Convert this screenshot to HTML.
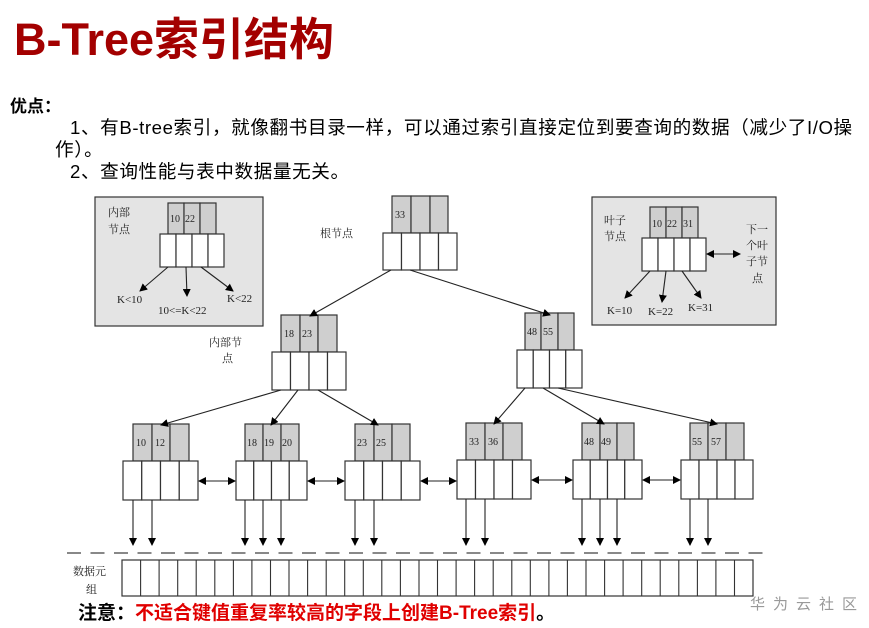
<!DOCTYPE html>
<html><head><meta charset="utf-8"><style>
body{margin:0;width:869px;height:628px;background:#fff;overflow:hidden;position:relative;font-family:"Liberation Sans","Noto Sans CJK SC",sans-serif}
.t{position:absolute;white-space:nowrap}
</style></head><body>
<div class="t" style="left:14px;top:3px;font-size:45px;font-weight:bold;color:#a30000;letter-spacing:0px">B-Tree索引结构</div>
<div class="t" style="left:10px;top:92px;font-size:17px;font-weight:bold">优点：</div>
<div class="t" style="left:70px;top:117px;font-size:18.6px;line-height:22px;letter-spacing:0.6px">1、有B-tree索引，就像翻书目录一样，可以通过索引直接定位到要查询的数据（减少了I/O操</div>
<div class="t" style="left:55px;top:139px;font-size:18.6px;line-height:22px;letter-spacing:0.6px">作）。</div>
<div class="t" style="left:70px;top:161px;font-size:18.6px;line-height:22px;letter-spacing:0.6px">2、查询性能与表中数据量无关。</div>
<svg width="869" height="628" style="position:absolute;left:0;top:0" font-family="Liberation Serif, Noto Serif CJK SC, serif">
<defs><marker id="a" markerWidth="8" markerHeight="8" refX="7" refY="4" orient="auto" markerUnits="userSpaceOnUse"><path d="M0,0L8,4L0,8z" fill="#000"/></marker>
<marker id="b" markerWidth="8" markerHeight="8" refX="1" refY="4" orient="auto" markerUnits="userSpaceOnUse"><path d="M8,0L0,4L8,8z" fill="#000"/></marker></defs>
<g stroke="#333" stroke-width="1.2">
<rect x="95" y="197" width="168" height="129" fill="#e4e4e4"/>
<rect x="592" y="197" width="184" height="128" fill="#e4e4e4"/>
</g>
<g stroke="#333" stroke-width="1.2" fill="#cfcfcf">
<rect x="168" y="203" width="16" height="31"/><rect x="184" y="203" width="16" height="31"/><rect x="200" y="203" width="16" height="31"/>
<rect x="650" y="207" width="16" height="31"/><rect x="666" y="207" width="16" height="31"/><rect x="682" y="207" width="16" height="31"/>
<rect x="392" y="196" width="19" height="37"/><rect x="411" y="196" width="19" height="37"/><rect x="430" y="196" width="18" height="37"/>
<rect x="281" y="315" width="19" height="37"/><rect x="300" y="315" width="18" height="37"/><rect x="318" y="315" width="19" height="37"/>
<rect x="525" y="313" width="16" height="37"/><rect x="541" y="313" width="17" height="37"/><rect x="558" y="313" width="16" height="37"/>
<rect x="133" y="424" width="19" height="37"/><rect x="152" y="424" width="18" height="37"/><rect x="170" y="424" width="19" height="37"/>
<rect x="245" y="424" width="18" height="37"/><rect x="263" y="424" width="18" height="37"/><rect x="281" y="424" width="18" height="37"/>
<rect x="355" y="424" width="19" height="37"/><rect x="374" y="424" width="18" height="37"/><rect x="392" y="424" width="18" height="37"/>
<rect x="466" y="423" width="19" height="37"/><rect x="485" y="423" width="18" height="37"/><rect x="503" y="423" width="19" height="37"/>
<rect x="582" y="423" width="18" height="37"/><rect x="600" y="423" width="17" height="37"/><rect x="617" y="423" width="17" height="37"/>
<rect x="690" y="423" width="18" height="37"/><rect x="708" y="423" width="18" height="37"/><rect x="726" y="423" width="18" height="37"/>
</g>
<g stroke="#333" stroke-width="1.2" fill="#fff">
<rect x="160" y="234" width="16" height="33"/><rect x="176" y="234" width="16" height="33"/><rect x="192" y="234" width="16" height="33"/><rect x="208" y="234" width="16" height="33"/>
<rect x="642" y="238" width="16" height="33"/><rect x="658" y="238" width="16" height="33"/><rect x="674" y="238" width="16" height="33"/><rect x="690" y="238" width="16" height="33"/>
<rect x="383" y="233" width="18.5" height="37"/><rect x="401.5" y="233" width="18.5" height="37"/><rect x="420" y="233" width="18.5" height="37"/><rect x="438.5" y="233" width="18.5" height="37"/>
<rect x="272" y="352" width="18.5" height="38"/><rect x="290.5" y="352" width="18.5" height="38"/><rect x="309" y="352" width="18.5" height="38"/><rect x="327.5" y="352" width="18.5" height="38"/>
<rect x="517" y="350" width="16.25" height="38"/><rect x="533.25" y="350" width="16.25" height="38"/><rect x="549.5" y="350" width="16.25" height="38"/><rect x="565.75" y="350" width="16.25" height="38"/>
<rect x="123" y="461" width="18.75" height="39"/><rect x="141.75" y="461" width="18.75" height="39"/><rect x="160.5" y="461" width="18.75" height="39"/><rect x="179.25" y="461" width="18.75" height="39"/>
<rect x="236" y="461" width="17.75" height="39"/><rect x="253.75" y="461" width="17.75" height="39"/><rect x="271.5" y="461" width="17.75" height="39"/><rect x="289.25" y="461" width="17.75" height="39"/>
<rect x="345" y="461" width="18.75" height="39"/><rect x="363.75" y="461" width="18.75" height="39"/><rect x="382.5" y="461" width="18.75" height="39"/><rect x="401.25" y="461" width="18.75" height="39"/>
<rect x="457" y="460" width="18.5" height="39"/><rect x="475.5" y="460" width="18.5" height="39"/><rect x="494" y="460" width="18.5" height="39"/><rect x="512.5" y="460" width="18.5" height="39"/>
<rect x="573" y="460" width="17.25" height="39"/><rect x="590.25" y="460" width="17.25" height="39"/><rect x="607.5" y="460" width="17.25" height="39"/><rect x="624.75" y="460" width="17.25" height="39"/>
<rect x="681" y="460" width="18" height="39"/><rect x="699" y="460" width="18" height="39"/><rect x="717" y="460" width="18" height="39"/><rect x="735" y="460" width="18" height="39"/>
</g>
<g stroke="#222" stroke-width="1.1" marker-end="url(#a)">
<line x1="168" y1="267" x2="140" y2="291"/><line x1="186" y1="267" x2="187" y2="296"/><line x1="201" y1="267" x2="233" y2="291"/>
<line x1="650" y1="271" x2="625" y2="298"/><line x1="666" y1="271" x2="662" y2="302"/><line x1="682" y1="271" x2="701" y2="298"/>
<line x1="391" y1="270" x2="310" y2="316"/><line x1="410" y1="270" x2="550" y2="315"/>
<line x1="281" y1="390" x2="161" y2="425"/><line x1="298" y1="390" x2="271" y2="425"/><line x1="318" y1="390" x2="378" y2="425"/>
<line x1="525" y1="388" x2="494" y2="424"/><line x1="543" y1="388" x2="604" y2="424"/><line x1="558" y1="388" x2="717" y2="424"/>
<line x1="133" y1="500" x2="133" y2="545"/><line x1="152" y1="500" x2="152" y2="545"/>
<line x1="245" y1="500" x2="245" y2="545"/><line x1="263" y1="500" x2="263" y2="545"/><line x1="281" y1="500" x2="281" y2="545"/>
<line x1="355" y1="500" x2="355" y2="545"/><line x1="374" y1="500" x2="374" y2="545"/>
<line x1="466" y1="499" x2="466" y2="545"/><line x1="485" y1="499" x2="485" y2="545"/>
<line x1="582" y1="499" x2="582" y2="545"/><line x1="600" y1="499" x2="600" y2="545"/><line x1="617" y1="499" x2="617" y2="545"/>
<line x1="690" y1="499" x2="690" y2="545"/><line x1="708" y1="499" x2="708" y2="545"/>
</g>
<g stroke="#222" stroke-width="1.1" marker-end="url(#a)" marker-start="url(#b)">
<line x1="707" y1="254" x2="740" y2="254"/>
<line x1="199" y1="481" x2="235" y2="481"/><line x1="308" y1="481" x2="344" y2="481"/><line x1="421" y1="481" x2="456" y2="481"/>
<line x1="532" y1="480" x2="572" y2="480"/><line x1="643" y1="480" x2="680" y2="480"/>
</g>
<line x1="67" y1="553" x2="770" y2="553" stroke="#777" stroke-width="1.8" stroke-dasharray="14,9.5"/>
<rect x="122" y="560" width="631" height="36" fill="#fff" stroke="#333" stroke-width="1.2"/>
<path stroke="#333" stroke-width="1.1" d="M140.6,560v36M159.1,560v36M177.7,560v36M196.2,560v36M214.8,560v36M233.4,560v36M251.9,560v36M270.5,560v36M289,560v36M307.6,560v36M326.2,560v36M344.7,560v36M363.3,560v36M381.8,560v36M400.4,560v36M419,560v36M437.5,560v36M456.1,560v36M474.6,560v36M493.2,560v36M511.8,560v36M530.3,560v36M548.9,560v36M567.4,560v36M586,560v36M604.6,560v36M623.1,560v36M641.7,560v36M660.2,560v36M678.8,560v36M697.4,560v36M715.9,560v36M734.5,560v36"/>
<g font-size="10" fill="#222">
<text x="170" y="222">10</text><text x="185" y="222">22</text>
<text x="652" y="227">10</text><text x="667" y="227">22</text><text x="683" y="227">31</text>
<text x="395" y="218">33</text>
<text x="284" y="337">18</text><text x="302" y="337">23</text>
<text x="527" y="335">48</text><text x="543" y="335">55</text>
<text x="136" y="446">10</text><text x="155" y="446">12</text>
<text x="247" y="446">18</text><text x="264" y="446">19</text><text x="282" y="446">20</text>
<text x="357" y="446">23</text><text x="376" y="446">25</text>
<text x="469" y="445">33</text><text x="488" y="445">36</text>
<text x="584" y="445">48</text><text x="601" y="445">49</text>
<text x="692" y="445">55</text><text x="711" y="445">57</text>
</g>
<g font-size="11" fill="#222">
<text x="117" y="303">K&lt;10</text><text x="158" y="314">10&lt;=K&lt;22</text><text x="227" y="302">K&lt;22</text>
<text x="607" y="314">K=10</text><text x="648" y="315">K=22</text><text x="688" y="311">K=31</text>
<text x="108" y="216">内部</text><text x="108" y="233">节点</text>
<text x="604" y="224">叶子</text><text x="604" y="240">节点</text>
<text x="746" y="233">下一</text><text x="746" y="249">个叶</text><text x="746" y="265">子节</text><text x="752" y="282">点</text>
<text x="320" y="237">根节点</text>
<text x="209" y="346">内部节</text><text x="222" y="362">点</text>
<text x="73" y="575">数据元</text><text x="86" y="593">组</text>
</g>
</svg>
<div class="t" style="left:78px;top:598px;font-size:19px;font-weight:bold">注意：<span style="color:#e00000">不适合键值重复率较高的字段上创建B-Tree索引</span>。</div>
<div class="t" style="left:750px;top:593px;font-size:15px;color:#999;letter-spacing:8px">华为云社区</div>
</body></html>
